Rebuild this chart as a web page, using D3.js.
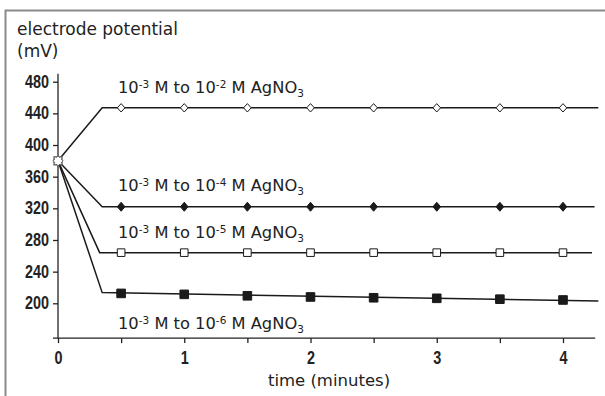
<!DOCTYPE html>
<html>
<head>
<meta charset="utf-8">
<script src="https://cdn.jsdelivr.net/npm/d3@7"></script>
<style>
  body { margin: 0; background: #fff; }
  svg { display: block; }
  .tick text { font-family: "Liberation Sans", Arial, sans-serif; font-weight: bold; font-size: 17.5px; fill: #222; }
  .lbl { font-family: "DejaVu Sans", sans-serif; fill: #222; }
</style>
</head>
<body>
<svg id="chart" width="605" height="396"></svg>
<script>
// data
const times = [0.5, 1, 1.5, 2, 2.5, 3, 3.5, 4];
const xTicks = [0, 1, 2, 3, 4];
const xMinor = [0.5, 1.5, 2.5, 3.5];
const yTicks = [200, 240, 280, 320, 360, 400, 440, 480];

const startValue = 380;
const vals2 = [447, 447, 447, 447, 447, 447, 447, 447];
const vals4 = [322, 322, 322, 322, 322, 322, 322, 322];
const vals5 = [264, 264, 264, 264, 264, 264, 264, 264];
const vals6 = [212.5, 211.3, 209.5, 208, 207, 206.3, 205.2, 204.2];

// drawn curves: start, kink, end
const line2 = [[0, 380], [0.35, 447], [4.28, 447]];
const line4 = [[0, 380], [0.35, 322], [4.25, 322]];
const line5 = [[0, 380], [0.33, 264], [4.23, 264]];
const line6 = [[0, 380], [0.35, 213.5], [4.28, 203]];

const exps = ["-2", "-4", "-5", "-6"];

const svg = d3.select("#chart");

// outer frame
svg.append("rect")
    .attr("x", 5.5).attr("y", 10.5)
    .attr("width", 700).attr("height", 500)
    .attr("fill", "none")
    .attr("stroke", "#8a8a8a")
    .attr("stroke-width", 2);

const x = d3.scaleLinear().domain([0, 4]).range([58, 563]);
const y = d3.scaleLinear().domain([200, 480]).range([303.3, 81.7]);

// axes
const gy = svg.append("g").attr("transform", `translate(${x(0)},0)`)
    .call(d3.axisLeft(y).tickValues(yTicks).tickSize(5).tickPadding(4).tickSizeOuter(0));
gy.select(".domain").remove();

const gx = svg.append("g").attr("transform", `translate(0,${y(156)})`)
    .call(d3.axisBottom(x).tickValues(xTicks).tickFormat(d3.format("d"))
      .tickSize(5).tickPadding(8).tickSizeOuter(0));
gx.select(".domain").remove();
svg.append("g").attr("transform", `translate(0,${y(156)})`)
    .call(d3.axisBottom(x).tickValues(xMinor).tickSize(5).tickFormat(""))
    .select(".domain").remove();

// squeeze tick labels to look like a condensed face
svg.selectAll(".tick text")
    .attr("textLength", function () { return this.textContent.length * 8; })
    .attr("lengthAdjust", "spacingAndGlyphs");

svg.selectAll(".tick line").attr("stroke", "#222").attr("stroke-width", 1.3);

svg.append("line")
    .attr("x1", x(0)).attr("x2", x(0))
    .attr("y1", y(490)).attr("y2", y(156))
    .attr("stroke", "#222").attr("stroke-width", 1.3);
svg.append("line")
    .attr("x1", x(-0.04)).attr("x2", x(4.255))
    .attr("y1", y(156)).attr("y2", y(156))
    .attr("stroke", "#222").attr("stroke-width", 1.3);

// curves
const lineGen = d3.line().x(d => x(d[0])).y(d => y(d[1]));
[line2, line4, line5, line6].forEach(l => {
  svg.append("path")
      .attr("d", lineGen(l))
      .attr("fill", "none")
      .attr("stroke", "#1a1a1a")
      .attr("stroke-width", 1.5);
});

function diamond(cx, cy, w, h) {
  return `M${cx},${cy - h}L${cx + w},${cy}L${cx},${cy + h}L${cx - w},${cy}Z`;
}
function square(cx, cy, s) {
  return `M${cx - s},${cy - s}h${2 * s}v${2 * s}h${-2 * s}Z`;
}

// markers
const mk = svg.append("g");
mk.selectAll(".d2").data(times).join("path")
    .attr("d", (t, i) => diamond(x(t), y(vals2[i]), 3.8, 4.2))
    .attr("fill", "#fff").attr("stroke", "#1a1a1a").attr("stroke-width", 1);
mk.selectAll(".d4").data(times).join("path")
    .attr("d", (t, i) => diamond(x(t), y(vals4[i]), 3.8, 4.5))
    .attr("fill", "#1a1a1a").attr("stroke", "#1a1a1a").attr("stroke-width", 1);
mk.selectAll(".s5").data(times).join("path")
    .attr("d", (t, i) => square(x(t), y(vals5[i]), 3.8))
    .attr("fill", "#fff").attr("stroke", "#1a1a1a").attr("stroke-width", 1);
mk.selectAll(".s6").data(times).join("path")
    .attr("d", (t, i) => square(x(t), y(vals6[i]), 4.3))
    .attr("fill", "#1a1a1a").attr("stroke", "#1a1a1a").attr("stroke-width", 1);

// shared start point
mk.append("path").attr("d", square(x(0), y(startValue), 4))
    .attr("fill", "#fff").attr("stroke", "#555").attr("stroke-width", 1.2);
mk.append("path").attr("d", diamond(x(0), y(startValue), 5, 5))
    .attr("fill", "#fff").attr("stroke", "#555").attr("stroke-width", 1);
mk.append("path").attr("d", square(x(0), y(startValue), 3))
    .attr("fill", "#fff").attr("stroke", "none");

// series labels
const labelPos = [[118, 93], [118, 191], [118, 238], [118, 329]];
exps.forEach((e, i) => {
  const t = svg.append("text").attr("class", "lbl")
      .attr("x", labelPos[i][0]).attr("y", labelPos[i][1])
      .attr("font-size", 16.3);
  t.append("tspan").text("10");
  t.append("tspan").attr("font-size", 10.5).attr("dy", -5.5).text("-3");
  t.append("tspan").attr("dy", 5.5).text(" M to 10");
  t.append("tspan").attr("font-size", 10.5).attr("dy", -5.5).text(e);
  t.append("tspan").attr("dy", 5.5).text(" M AgNO");
  t.append("tspan").attr("font-size", 10.5).attr("dy", 4).text("3");
});

// axis titles
svg.append("text").attr("class", "lbl").attr("x", 17).attr("y", 35)
    .attr("font-size", 17).text("electrode potential");
svg.append("text").attr("class", "lbl").attr("x", 17).attr("y", 57)
    .attr("font-size", 17).text("(mV)");
svg.append("text").attr("class", "lbl").attr("x", 329).attr("y", 386)
    .attr("text-anchor", "middle").attr("font-size", 16.5).text("time (minutes)");
</script>
</body>
</html>
